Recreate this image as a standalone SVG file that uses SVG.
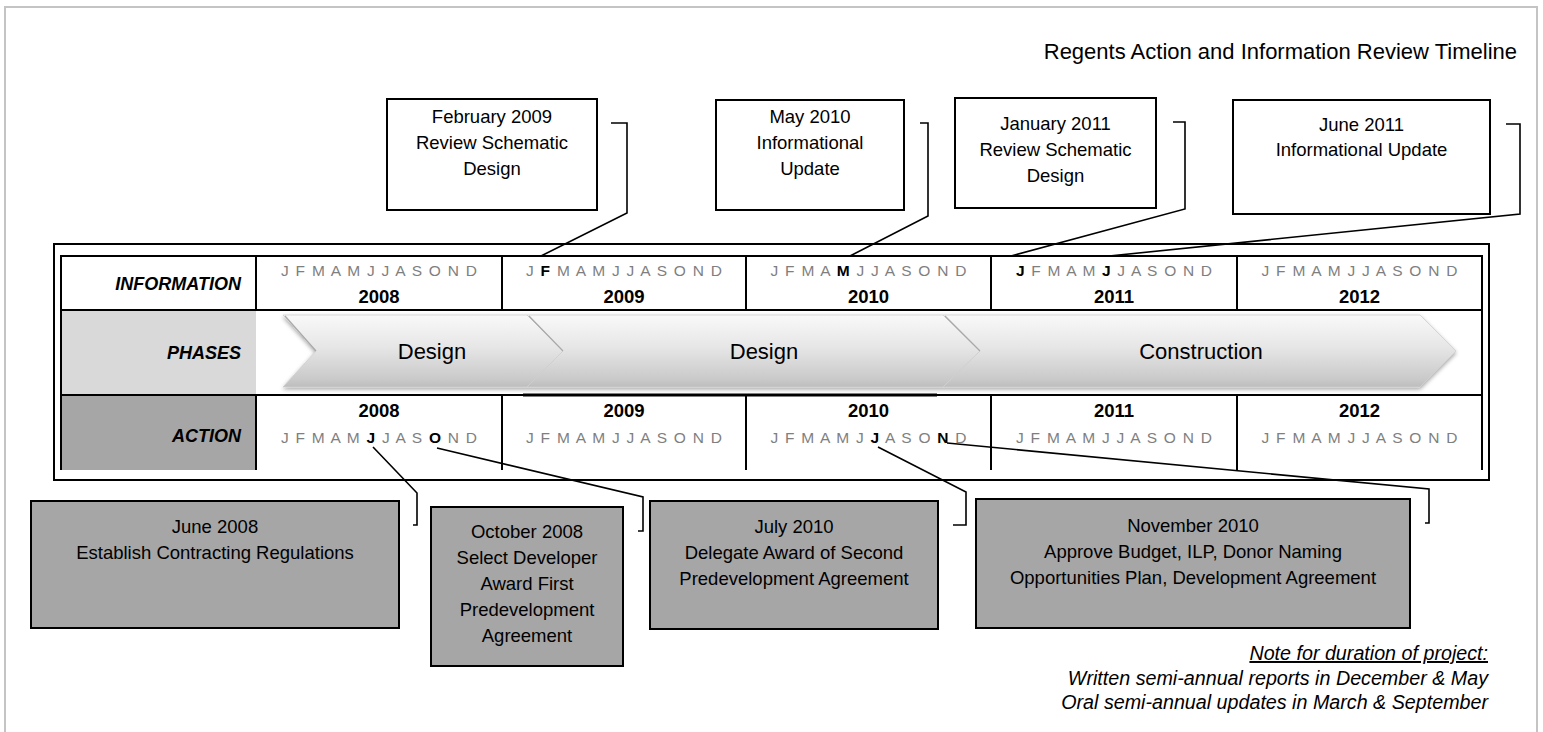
<svg xmlns="http://www.w3.org/2000/svg" width="1543" height="732" viewBox="0 0 1543 732">
<defs>
<style>
text{font-family:"Liberation Sans",Arial,sans-serif;fill:#000}
.t{font-size:18.5px;text-anchor:middle}
.mo{font-size:15.5px;fill:#7f7f7f}
.mo .b{font-weight:bold;fill:#000}
.yr{font-size:18.5px;font-weight:bold;text-anchor:middle}
.lab{font-size:18px;font-weight:bold;font-style:italic;text-anchor:end}
.ph{font-size:22px;text-anchor:middle}
.note{font-size:19.7px;font-style:italic;text-anchor:end}
.grid{stroke:#000;stroke-width:2;fill:none}
.box{stroke:#000;stroke-width:2}
.wb{fill:#fff}
.gb{fill:#a6a6a6}
.con{stroke:#000;stroke-width:1.6;fill:none}
.chev{fill:url(#cg);stroke:#cfcfcf;stroke-width:0.8}
.notch{stroke:#a9a9a9;stroke-width:1.2;fill:none}
</style>
<linearGradient id="cg" x1="0" y1="0" x2="0" y2="1">
<stop offset="0" stop-color="#f9f9f9"/>
<stop offset="0.45" stop-color="#e6e6e6"/>
<stop offset="0.9" stop-color="#c9c9c9"/>
<stop offset="1" stop-color="#bdbdbd"/>
</linearGradient>
<filter id="sh" x="-5%" y="-20%" width="110%" height="150%">
<feGaussianBlur in="SourceAlpha" stdDeviation="2"/>
<feOffset dy="2" result="b"/>
<feComponentTransfer><feFuncA type="linear" slope="0.35"/></feComponentTransfer>
<feMerge><feMergeNode/><feMergeNode in="SourceGraphic"/></feMerge>
</filter>
</defs>
<rect x="0" y="0" width="1543" height="732" fill="#fff"/>
<path d="M5 732 V7 H1537 V732" fill="none" stroke="#c4c4c4" stroke-width="2"/>

<text x="1517" y="59" style="font-size:22px;text-anchor:end">Regents Action and Information Review Timeline</text>

<g id="timeline">
<rect x="54" y="244" width="1435" height="236" class="grid"/>
<rect x="61" y="256" width="195" height="54" fill="#fff"/>
<rect x="61" y="310" width="195" height="85" fill="#d9d9d9"/>
<rect x="61" y="395" width="195" height="75" fill="#a6a6a6"/>
<path class="grid" d="M61 470 V256 H1482 V470 M61 310 H1482 M61 395 H1482 M256 256 V310 M502 256 V310 M746 256 V310 M991 256 V310 M1237 256 V310 M256 395 V470 M502 395 V470 M746 395 V470 M991 395 V470 M1237 395 V470"/>
<path d="M523 395 H937" stroke="#000" stroke-width="3"/>
<text class="lab" x="241" y="290">INFORMATION</text>
<text class="lab" x="241" y="359">PHASES</text>
<text class="lab" x="241" y="442">ACTION</text>

<text class="mo" x="281" y="276" textLength="196" lengthAdjust="spacing">J F M A M J J A S O N D</text>
<text class="mo" x="526" y="276" textLength="196" lengthAdjust="spacing">J <tspan class="b">F</tspan> M A M J J A S O N D</text>
<text class="mo" x="770.5" y="276" textLength="196" lengthAdjust="spacing">J F M A <tspan class="b">M</tspan> J J A S O N D</text>
<text class="mo" x="1016" y="276" textLength="196" lengthAdjust="spacing"><tspan class="b">J</tspan> F M A M <tspan class="b">J</tspan> J A S O N D</text>
<text class="mo" x="1261.5" y="276" textLength="196" lengthAdjust="spacing">J F M A M J J A S O N D</text>
<text class="yr" x="379" y="303">2008</text>
<text class="yr" x="624" y="303">2009</text>
<text class="yr" x="868.5" y="303">2010</text>
<text class="yr" x="1114" y="303">2011</text>
<text class="yr" x="1359.5" y="303">2012</text>

<text class="yr" x="379" y="417">2008</text>
<text class="yr" x="624" y="417">2009</text>
<text class="yr" x="868.5" y="417">2010</text>
<text class="yr" x="1114" y="417">2011</text>
<text class="yr" x="1359.5" y="417">2012</text>
<text class="mo" x="281" y="443" textLength="196" lengthAdjust="spacing">J F M A M <tspan class="b">J</tspan> J A S <tspan class="b">O</tspan> N D</text>
<text class="mo" x="526" y="443" textLength="196" lengthAdjust="spacing">J F M A M J J A S O N D</text>
<text class="mo" x="770.5" y="443" textLength="196" lengthAdjust="spacing">J F M A M J <tspan class="b">J</tspan> A S O <tspan class="b">N</tspan> D</text>
<text class="mo" x="1016" y="443" textLength="196" lengthAdjust="spacing">J F M A M J J A S O N D</text>
<text class="mo" x="1261.5" y="443" textLength="196" lengthAdjust="spacing">J F M A M J J A S O N D</text>
</g>

<g id="phases">
<g filter="url(#sh)">
<polygon class="chev" points="283,315 527,315 563,351 527,387 283,387 316,351"/>
<polygon class="chev" points="527,315 943,315 980,351 943,387 527,387 563,351"/>
<polygon class="chev" points="943,315 1420,315 1456,351 1420,387 943,387 980,351"/>
</g>
<path class="notch" d="M285 316 L316 351 M529 316 L563 351 M945 316 L980 351"/>
<g id="phase-design-1"><text class="ph" x="432" y="359">Design</text></g>
<g id="phase-design-2"><text class="ph" x="764" y="359">Design</text></g>
<g id="phase-construction"><text class="ph" x="1201" y="359">Construction</text></g>
</g>

<g id="connectors">
<path class="con" d="M611 123 H627 V213 L541 256"/>
<path class="con" d="M920 123 H928 V216 L850 256"/>
<path class="con" d="M1173 122 H1185 V209 L1011 256"/>
<path class="con" d="M1506 124 H1520 V214 L1109 256"/>
<path class="con" d="M373 447 L417 493 V525 H413"/>
<path class="con" d="M437 448 L643 497 V531 H638"/>
<path class="con" d="M878 447 L966 492 V525 H953"/>
<path class="con" d="M947 443 L1429 489 V523 H1425"/>
</g>

<g id="info-feb-2009"><rect class="box wb" x="387" y="99" width="210" height="111"/>
<text class="t" x="492" y="123">February 2009</text><text class="t" x="492" y="149">Review Schematic</text><text class="t" x="492" y="175">Design</text></g>
<g id="info-may-2010"><rect class="box wb" x="716" y="100" width="188" height="110"/>
<text class="t" x="810" y="123">May 2010</text><text class="t" x="810" y="149">Informational</text><text class="t" x="810" y="175">Update</text></g>
<g id="info-jan-2011"><rect class="box wb" x="955" y="98" width="201" height="110"/>
<text class="t" x="1055.5" y="130">January 2011</text><text class="t" x="1055.5" y="156">Review Schematic</text><text class="t" x="1055.5" y="182">Design</text></g>
<g id="info-jun-2011"><rect class="box wb" x="1233" y="100" width="257" height="114"/>
<text class="t" x="1361.5" y="131">June 2011</text><text class="t" x="1361.5" y="156">Informational Update</text></g>

<g id="act-jun-2008"><rect class="box gb" x="31" y="501" width="368" height="127"/>
<text class="t" x="215" y="533">June 2008</text><text class="t" x="215" y="559">Establish Contracting Regulations</text></g>
<g id="act-oct-2008"><rect class="box gb" x="431" y="507" width="192" height="159"/>
<text class="t" x="527" y="538">October 2008</text><text class="t" x="527" y="564">Select Developer</text><text class="t" x="527" y="590">Award First</text><text class="t" x="527" y="616">Predevelopment</text><text class="t" x="527" y="642">Agreement</text></g>
<g id="act-jul-2010"><rect class="box gb" x="650" y="501" width="288" height="128"/>
<text class="t" x="794" y="533">July 2010</text><text class="t" x="794" y="559">Delegate Award of Second</text><text class="t" x="794" y="585">Predevelopment Agreement</text></g>
<g id="act-nov-2010"><rect class="box gb" x="976" y="499" width="434" height="129"/>
<text class="t" x="1193" y="532">November 2010</text><text class="t" x="1193" y="558">Approve Budget, ILP, Donor Naming</text><text class="t" x="1193" y="584">Opportunities Plan, Development Agreement</text></g>

<g id="note">
<text class="note" x="1488" y="660" text-decoration="underline">Note for duration of project:</text>
<text class="note" x="1488" y="685">Written semi-annual reports in December &amp; May</text>
<text class="note" x="1488" y="709">Oral semi-annual updates in March &amp; September</text>
</g>
</svg>
